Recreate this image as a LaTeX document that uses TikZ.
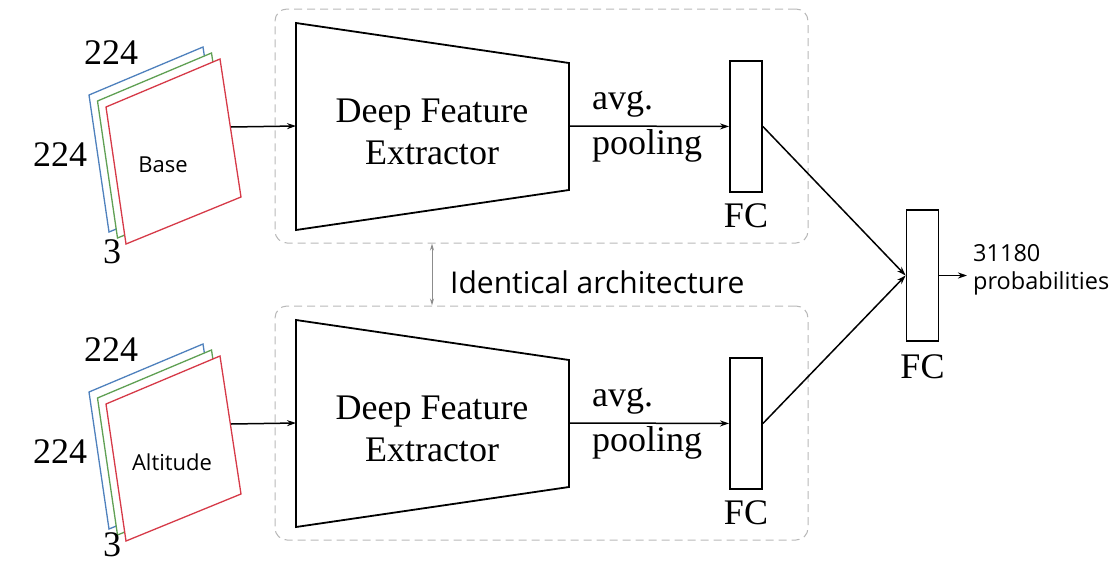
\documentclass[tikz,border=0pt]{standalone}
\usepackage{fontspec}
\setmainfont{Liberation Serif}
\newfontfamily\uifont{Open Sans}
\usetikzlibrary{arrows.meta,positioning}
\definecolor{layerblue}{RGB}{79,129,189}
\definecolor{layergreen}{RGB}{96,160,84}
\definecolor{layerred}{RGB}{214,58,72}

\begin{document}
\begin{tikzpicture}[x=1pt, y=-1pt,
    groupbox/.style={draw=black!28, dash pattern=on 8pt off 5pt, line width=1pt, rounded corners=12pt, minimum width=533pt, minimum height=234pt},
    extractor/.style={draw, line width=1.8pt},
    fcbox/.style={draw, line width=1.8pt, minimum width=32pt, minimum height=131pt, inner sep=0pt},
    layer/.style={line width=1.3pt, fill=white},
    conn/.style={line width=1.5pt, -{Stealth[length=9pt,width=6pt]}},
    serifbig/.style={font=\fontsize{36}{42}\selectfont, inner sep=0pt},
    uitext/.style={font=\uifont\fontsize{22}{28}\selectfont, inner sep=0pt}]
    \useasboundingbox (0,0) rectangle (1112,565);

    \foreach \r/\dy/\img/\ix/\dz in {1/0/Base/163/252, 2/297/Altitude/172/248}{
        \begin{scope}[shift={(0,\dy)}]
            % input image, one layer per channel
            \foreach \c/\s in {layerblue/2, layergreen/1, layerred/0}
            \draw[layer, draw=\c, shift={(-8.5*\s,-6*\s)}] (106,107) -- (220,59) -- (241,197) -- (126,244) -- cycle;
            \node[uitext] (img\r) at (\ix,165) {\img};
            \node[serifbig] (w\r) at (111,53) {224};
            \node[serifbig] (h\r) at (60,155) {224};
            \node[serifbig] (d\r) at (112,\dz) {3};

            \node[groupbox] (grp\r) at (541.5,126) {};
            \draw[extractor] (296,23) -- (569,63) -- (569,190) -- (296,230) -- cycle;
            \node[serifbig, align=center] (ext\r) at (432,132) {Deep Feature\\Extractor};
            \coordinate (src\r) at (231,127);
            \coordinate (in\r) at (296,126);
            \coordinate (out\r) at (569,126);
            \draw[conn] (src\r) -- (in\r);

            \node[fcbox] (fc\r) at (746,126.5) {};
            \node[serifbig, below=11pt of fc\r] (fclab\r) {FC};
            \node[serifbig, font=\fontsize{36}{45}\selectfont, anchor=west, align=left] (pool\r) at (592,127) {avg.\\pooling};
            \draw[conn] (out\r) -- (fc\r);
        \end{scope}
    }

    \node[fcbox] (fc3) at (922.5,275.5) {};
    \node[serifbig, below=13pt of fc3] (fclab3) {FC};
    \draw[conn] (fc1.east) -- (fc3.west);
    \draw[conn] (fc2.east) -- (fc3.west);
    \coordinate (probs) at (967,275.5);
    \draw[conn] (fc3.east) -- (probs);
    \node[uitext, font=\uifont\fontsize{23.5}{28}\selectfont, anchor=west, align=left] (outtext) at (973,270) {31180\\probabilities};

    \coordinate (idx) at (432,0);
    \draw[black!45, line width=1pt, {Stealth[length=7pt,width=4pt]}-{Stealth[length=7pt,width=4pt]}] (grp1.south -| idx) -- (grp2.north -| idx);
    \node[font=\uifont\fontsize{30}{36}\selectfont, inner sep=0pt, anchor=west] (ident) at (450,282) {Identical architecture};
\end{tikzpicture}
\end{document}
